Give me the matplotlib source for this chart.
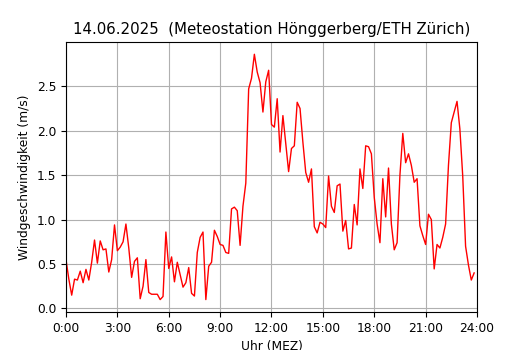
import numpy as np
import matplotlib
matplotlib.use("Agg")
import matplotlib.pyplot as plt

# 10-min mean wind speed, 14.06.2025, 0:00 .. 23:50
wind = [
    0.55, 0.33, 0.15, 0.33, 0.32, 0.42, 0.29, 0.44, 0.32, 0.52, 0.77, 0.51,
    0.76, 0.66, 0.67, 0.41, 0.55, 0.94, 0.65, 0.69, 0.75, 0.95, 0.68, 0.35,
    0.53, 0.57, 0.11, 0.25, 0.55, 0.18, 0.16, 0.16, 0.16, 0.10, 0.135, 0.86,
    0.45, 0.58, 0.30, 0.52, 0.38, 0.24, 0.29, 0.46, 0.17, 0.14, 0.63, 0.80,
    0.86, 0.10, 0.475, 0.52, 0.88, 0.81, 0.72, 0.71, 0.63, 0.62, 1.12, 1.14,
    1.10, 0.71, 1.15, 1.41, 2.47, 2.59, 2.86, 2.66, 2.54, 2.21, 2.55, 2.68,
    2.07, 2.04, 2.36, 1.76, 2.17, 1.85, 1.54, 1.80, 1.83, 2.32, 2.25, 1.87,
    1.53, 1.42, 1.57, 0.92, 0.85, 0.97, 0.95, 0.91, 1.49, 1.15, 1.08, 1.38,
    1.40, 0.87, 0.99, 0.67, 0.68, 1.17, 0.94, 1.57, 1.35, 1.83, 1.82, 1.74,
    1.25, 0.95, 0.74, 1.46, 1.03, 1.58, 0.95, 0.66, 0.74, 1.50, 1.97, 1.64,
    1.74, 1.61, 1.42, 1.46, 0.93, 0.82, 0.72, 1.06, 1.00, 0.445, 0.72, 0.68,
    0.80, 0.95, 1.61, 2.09, 2.21, 2.33, 2.02, 1.49, 0.70, 0.49, 0.32, 0.40,
]
hours = np.arange(len(wind)) * 10 / 60

tick_hours = list(range(0, 25, 3))
tick_labels = [f"{h}:00" for h in tick_hours]

plt.rcParams["font.size"] = 8.8

fig = plt.figure(figsize=(5.3, 3.5), dpi=100)
ax = fig.add_axes([0.1245, 0.109, 0.7755, 0.771])
ax.plot(hours, wind, color="red", linewidth=1)
ax.set_xlim(0, 24)
ax.set_xticks(tick_hours)
ax.set_xticklabels(tick_labels)
ax.set_title("14.06.2025  (Meteostation Hönggerberg/ETH Zürich)", fontsize=10.8)
ax.set_xlabel("Uhr (MEZ)")
ax.set_ylabel("Windgeschwindigkeit (m/s)")
ax.grid(True)

fig.savefig("out.png", dpi=100)
